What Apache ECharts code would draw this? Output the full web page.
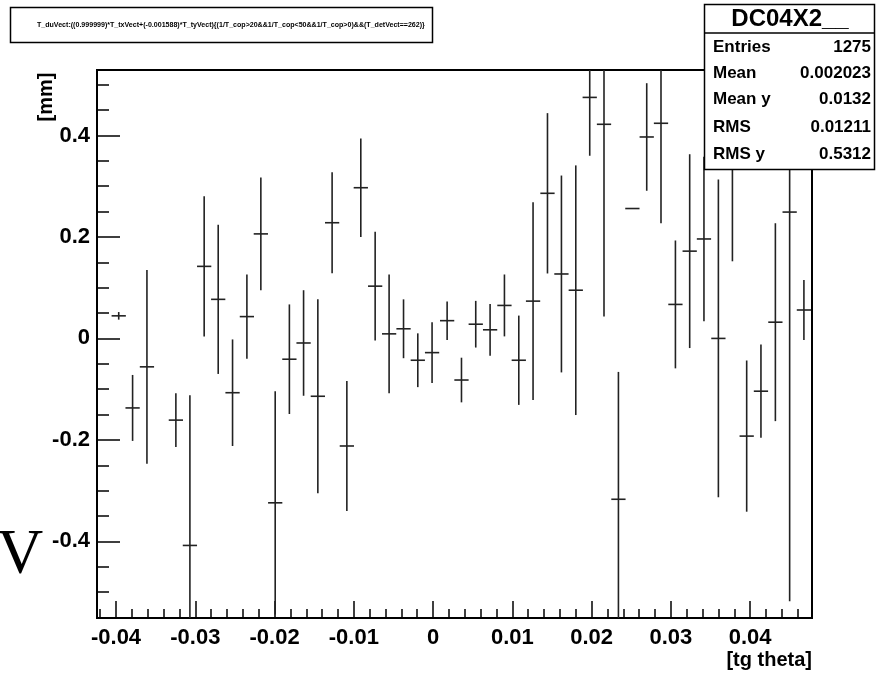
<!DOCTYPE html>
<html><head><meta charset="utf-8">
<script src="https://cdn.jsdelivr.net/npm/echarts@6/dist/echarts.min.js"></script>
<style>html,body{margin:0;padding:0;background:#fff;} #c{width:876px;height:673px;}</style>
</head><body><div id="c"></div>
<script>
// ---- data ----
const xCenters = [-0.03966, -0.03791, -0.03610, -0.03245, -0.03068, -0.02888, -0.02711, -0.02530,
  -0.02349, -0.02173, -0.01992, -0.01813, -0.01634, -0.01454, -0.01274, -0.01088, -0.00912,
  -0.00731, -0.00555, -0.00373, -0.00193, -0.00013, 0.00177, 0.00358, 0.00538, 0.00719,
  0.00900, 0.01081, 0.01261, 0.01443, 0.01619, 0.01800, 0.01976, 0.02156, 0.02338, 0.02514,
  0.02695, 0.02875, 0.03057, 0.03237, 0.03417, 0.03599, 0.03776, 0.03956, 0.04136, 0.04318,
  0.04498, 0.04678];
const yValues = [0.0445, -0.137, -0.056, -0.161, -0.408, 0.142, 0.077, -0.107,
  0.043, 0.206, -0.324, -0.041, -0.009, -0.114, 0.228, -0.212, 0.297,
  0.103, 0.009, 0.019, -0.043, -0.028, 0.035, -0.082, 0.028, 0.017,
  0.065, -0.043, 0.0735, 0.286, 0.127, 0.095, 0.475, 0.422, -0.317, 0.256,
  0.397, 0.424, 0.067, 0.172, 0.196, 0.0, 0.38, -0.1925, -0.104, 0.032,
  0.249, 0.056];
const yErrors = [0.0075, 0.065, 0.191, 0.053, 0.296, 0.138, 0.147, 0.105,
  0.083, 0.111, 0.220, 0.108, 0.104, 0.191, 0.0995, 0.128, 0.097,
  0.107, 0.117, 0.058, 0.053, 0.060, 0.038, 0.044, 0.046, 0.051,
  0.061, 0.088, 0.195, 0.158, 0.194, 0.246, 0.115, 0.379, 0.251, 0.0,
  0.106, 0.197, 0.126, 0.191, 0.162, 0.313, 0.228, 0.149, 0.092, 0.195,
  0.767, 0.059];
const binWidth = 0.0018;
const xTickLabels = [-0.04, -0.03, -0.02, -0.01, 0, 0.01, 0.02, 0.03, 0.04];
const yTickLabels = [-0.4, -0.2, 0, 0.2, 0.4];
const histTitle = 'T_duVect:((0.999999)*T_txVect+(-0.001588)*T_tyVect){(1/T_cop>20&&1/T_cop<50&&1/T_cop>0)&&(T_detVect==262)}';
const statsTitle = 'DC04X2__';
const statsNames = ['Entries', 'Mean', 'Mean y', 'RMS', 'RMS y'];
const statsValues = ['1275', '0.002023', '0.0132', '0.01211', '0.5312'];
const xAxisTitle = '[tg theta]';
const yAxisTitle = '[mm]';

const X_MIN = -0.0424, X_MAX = 0.0478, Y_MIN = -0.551, Y_MAX = 0.529;

function minorTicks(min, max, step, majors) {
  const out = [];
  const n0 = Math.ceil(min / step - 1e-9), n1 = Math.floor(max / step + 1e-9);
  for (let k = n0; k <= n1; k++) {
    const v = +(k * step).toFixed(6);
    if (!majors.some(m => Math.abs(m - v) < 1e-9)) out.push(v);
  }
  return out;
}
const xMinor = minorTicks(X_MIN, X_MAX, 0.002, xTickLabels);
const yMinor = minorTicks(Y_MIN, Y_MAX, 0.05, yTickLabels);

const fmt = v => (v === 0 ? '0' : String(v));
const tickFont = { fontFamily: 'Liberation Sans', fontWeight: 'bold', fontSize: 22, color: '#000' };

const chart = echarts.init(document.getElementById('c'), null, { renderer: 'canvas' });

// fit the title text into the title box (text spans ~388 px)
const cvs = document.createElement('canvas').getContext('2d');
cvs.font = 'bold 10px "Liberation Sans"';
const titleSize = 10 * 388 / cvs.measureText(histTitle).width;
const titleFont = 'bold ' + titleSize.toFixed(2) + 'px "Liberation Sans"';

const statsRows = [];
const rowY = [47, 73, 99, 127, 154];
statsNames.forEach((n, i) => {
  statsRows.push({ type: 'text', x: 713, y: rowY[i], z: 101,
    style: { text: n, font: 'bold 17px "Liberation Sans"', fill: '#000', verticalAlign: 'middle', align: 'left' } });
  statsRows.push({ type: 'text', x: 871, y: rowY[i], z: 101,
    style: { text: statsValues[i], font: 'bold 17px "Liberation Sans"', fill: '#000', verticalAlign: 'middle', align: 'right' } });
});

const option = {
  backgroundColor: '#fff',
  animation: false,
  grid: { left: 97, top: 70, width: 715, height: 548, show: true, borderColor: '#000', borderWidth: 2, backgroundColor: 'transparent' },
  xAxis: [
    { type: 'value', min: X_MIN, max: X_MAX, position: 'bottom',
      axisLine: { show: true, onZero: false, lineStyle: { color: '#000', width: 2 } },
      axisTick: { show: true, inside: true, length: 17, customValues: xTickLabels, lineStyle: { color: '#000', width: 1.5 } },
      axisLabel: Object.assign({ customValues: xTickLabels, formatter: fmt, margin: 9 }, tickFont),
      splitLine: { show: false } },
    { type: 'value', min: X_MIN, max: X_MAX, position: 'bottom',
      axisLine: { show: false, onZero: false },
      axisTick: { show: true, inside: true, length: 9, customValues: xMinor, lineStyle: { color: '#000', width: 1.5 } },
      axisLabel: { show: false }, splitLine: { show: false } }
  ],
  yAxis: [
    { type: 'value', min: Y_MIN, max: Y_MAX, position: 'left',
      axisLine: { show: true, onZero: false, lineStyle: { color: '#000', width: 2 } },
      axisTick: { show: true, inside: true, length: 23, customValues: yTickLabels, lineStyle: { color: '#000', width: 1.5 } },
      axisLabel: Object.assign({ customValues: yTickLabels, formatter: fmt, margin: 7 }, tickFont),
      splitLine: { show: false } },
    { type: 'value', min: Y_MIN, max: Y_MAX, position: 'left',
      axisLine: { show: false, onZero: false },
      axisTick: { show: true, inside: true, length: 12, customValues: yMinor, lineStyle: { color: '#000', width: 1.5 } },
      axisLabel: { show: false }, splitLine: { show: false } }
  ],
  series: [{
    type: 'custom',
    xAxisIndex: 0, yAxisIndex: 0,
    clip: true,
    data: xCenters.map((x, i) => [x, yValues[i], yErrors[i]]),
    encode: { x: 0, y: 1 },
    renderItem: function (params, api) {
      const x = api.value(0), y = api.value(1), e = api.value(2);
      const c = api.coord([x, y]);
      const t = api.coord([x, y + e]);
      const b = api.coord([x, y - e]);
      const hw = api.size([binWidth, 0])[0] / 2;
      const st = { stroke: '#222', lineWidth: 1.6 };
      const children = [
        { type: 'line', shape: { x1: c[0] - hw, y1: c[1], x2: c[0] + hw, y2: c[1] }, style: st }
      ];
      if (e > 0) children.push({ type: 'line', shape: { x1: c[0], y1: t[1], x2: c[0], y2: b[1] }, style: st });
      return { type: 'group', children: children };
    }
  }],
  graphic: [
    { type: 'rect', z: 100, shape: { x: 10.5, y: 7.5, width: 422, height: 35 },
      style: { fill: '#fff', stroke: '#000', lineWidth: 1.5 } },
    { type: 'text', z: 101, x: 37, y: 25, style: { text: histTitle, font: titleFont, fill: '#000', verticalAlign: 'middle', align: 'left' } },
    { type: 'rect', z: 100, shape: { x: 704.5, y: 4.5, width: 170, height: 165 },
      style: { fill: '#fff', stroke: '#000', lineWidth: 1.5 } },
    { type: 'line', z: 101, shape: { x1: 704.5, y1: 33, x2: 874.5, y2: 33 }, style: { stroke: '#000', lineWidth: 1.5 } },
    { type: 'text', z: 101, x: 790, y: 19, style: { text: statsTitle, font: 'bold 24px "Liberation Sans"', fill: '#000', verticalAlign: 'middle', align: 'center' } }
  ].concat(statsRows).concat([
    { type: 'text', z: 101, x: 46, y: 97, rotation: Math.PI / 2,
      style: { text: yAxisTitle, font: 'bold 20px "Liberation Sans"', fill: '#000', verticalAlign: 'middle', align: 'center' } },
    { type: 'text', z: 101, x: 812, y: 660,
      style: { text: xAxisTitle, font: 'bold 20px "Liberation Sans"', fill: '#000', verticalAlign: 'middle', align: 'right' } },
    { type: 'text', z: 101, x: 20, y: 556,
      style: { text: 'V', font: '64px "Liberation Serif"', fill: '#000', verticalAlign: 'middle', align: 'center' } }
  ])
};
chart.setOption(option);
</script>
</body></html>
